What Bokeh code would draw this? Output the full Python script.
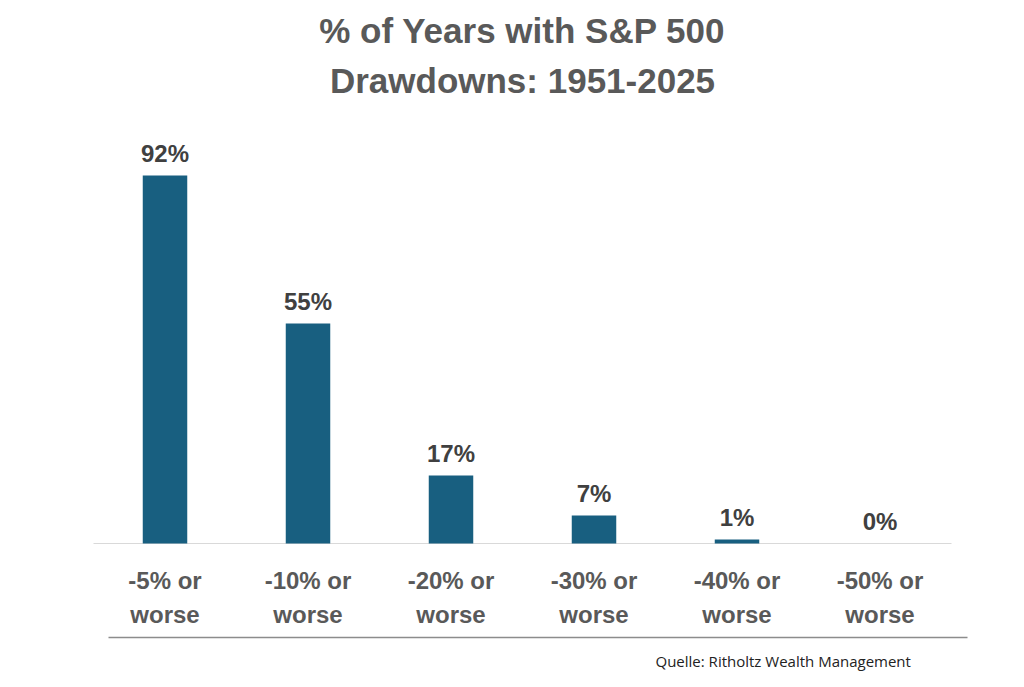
from bokeh.plotting import figure
from bokeh.models import Range1d, ColumnDataSource
from bokeh.embed import file_html
from bokeh.resources import INLINE
from bokeh.core.properties import value

# ---- data ----
title_line1 = "% of Years with S&P 500"
title_line2 = "Drawdowns: 1951-2025"
cat_line1 = ["-5% or", "-10% or", "-20% or", "-30% or", "-40% or", "-50% or"]
cat_line2 = ["worse", "worse", "worse", "worse", "worse", "worse"]
pct = [92, 55, 17, 7, 1, 0]
pct_labels = ["92%", "55%", "17%", "7%", "1%", "0%"]
source_text = "Quelle: Ritholtz Wealth Management"

# ---- layout constants (screenshot pixels -> data) ----
W, H = 1008, 671
PX_PER_CAT = 143.0
PX_PER_PCT = 4.0
FIRST_CENTER_PX = 164.5
BASE_PX = 543.0
LABEL_GAP_PX = 22.0

def xd(px):
    return (px - FIRST_CENTER_PX) / PX_PER_CAT

def yd(py):
    return (BASE_PX - py) / PX_PER_PCT

x_start = xd(0)
x_end = xd(W)
y_end = yd(0)
y_start = yd(H)

p = figure(width=W, height=H, output_backend="svg", toolbar_location=None,
           x_range=Range1d(x_start, x_end), y_range=Range1d(y_start, y_end),
           min_border=0, min_border_left=0, min_border_right=0,
           min_border_top=0, min_border_bottom=0)
p.axis.visible = False
p.grid.visible = False
p.outline_line_color = None
p.background_fill_color = "white"
p.border_fill_color = "white"

xs = list(range(len(pct)))
label_y = [v + LABEL_GAP_PX / PX_PER_PCT for v in pct]
src = ColumnDataSource(dict(x=xs, top=pct, ly=label_y, lab=pct_labels,
                            l1=cat_line1, l2=cat_line2))

# baseline
p.line(x=[xd(93), xd(951)], y=[0, 0], line_color="#d9d9d9", line_width=1.2)

# bars
p.vbar(x="x", top="top", bottom=0, width=44.5 / PX_PER_CAT, source=src,
       fill_color="#185f80", line_color=None)

# value labels
p.text(x="x", y="ly", text="lab", source=src, text_align="center",
       text_baseline="middle",
       text_font=value("Liberation Sans"), text_font_style="bold",
       text_font_size="24px", text_color="#404040")

# category labels
p.text(x="x", y=yd(580), text="l1", source=src, text_align="center",
       text_baseline="middle", text_font=value("Liberation Sans"),
       text_font_style="bold", text_font_size="24px", text_color="#595959")
p.text(x="x", y=yd(614), text="l2", source=src, text_align="center",
       text_baseline="middle", text_font=value("Liberation Sans"),
       text_font_style="bold", text_font_size="24px", text_color="#595959")

# title
p.text(x=[xd(522)], y=[yd(30)], text=[title_line1], text_align="center",
       text_baseline="middle", text_font=value("Liberation Sans"),
       text_font_style="bold", text_font_size="35px", text_color="#595959")
p.text(x=[xd(522)], y=[yd(80)], text=[title_line2], text_align="center",
       text_baseline="middle", text_font=value("Liberation Sans"),
       text_font_style="bold", text_font_size="35px", text_color="#595959")

# bottom rule
p.line(x=[xd(108), xd(967)], y=[yd(637), yd(637)], line_color="#8c8c8c", line_width=1.5)

# source
p.text(x=[xd(655)], y=[yd(660)], text=[source_text], text_align="left",
       text_baseline="middle", text_font=value("Open Sans"),
       text_font_size="15px", text_color="#222222")

open("out.html", "w").write(file_html(p, INLINE))
